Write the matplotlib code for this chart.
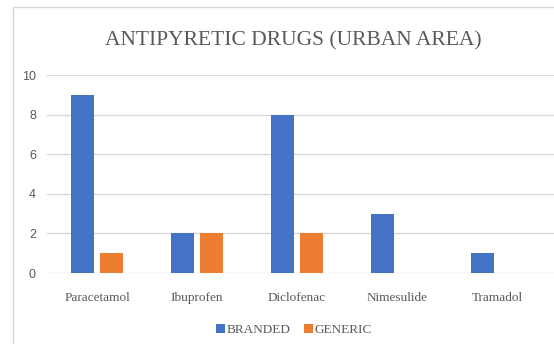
import matplotlib.pyplot as plt
from matplotlib.patches import Rectangle
import numpy as np

drugs = ['Paracetamol', 'Ibuprofen', 'Diclofenac', 'Nimesulide', 'Tramadol']
branded = [9, 2, 8, 3, 1]
generic = [1, 2, 2, 0, 0]
yticks = [0, 2, 4, 6, 8, 10]

blue = '#4472C4'
orange = '#ED7D31'
grey_text = '#595959'
grid_col = '#D9D9D9'

fig = plt.figure(figsize=(5.54, 3.44), dpi=100)
ax = fig.add_axes([47 / 554, 1 - 273 / 344, (554 - 47) / 554, (273 - 75) / 344])

# chart frame
fig.patches.append(Rectangle((13 / 554, -0.01), 1.0, 1 - 7 / 344 + 0.01,
                             transform=fig.transFigure, fill=False,
                             edgecolor=grid_col, linewidth=1))

x = np.arange(len(drugs))
w = 0.23
ax.bar(x - 0.145, branded, w, color=blue, label='BRANDED', zorder=3)
ax.bar(x + 0.145, generic, w, color=orange, label='GENERIC', zorder=3)

ax.set_xlim(-0.5, 4.57)
ax.set_ylim(0, 10)
ax.set_yticks(yticks)
ax.set_xticks(x)
ax.set_xticklabels(drugs, family='Liberation Serif', fontsize=9.5, color=grey_text)
for lab in ax.get_yticklabels():
    lab.set_family('Liberation Sans')
    lab.set_fontsize(9)
    lab.set_color(grey_text)
ax.tick_params(length=0)
ax.tick_params(axis='x', pad=14)
ax.tick_params(axis='y', pad=8)
ax.yaxis.grid(True, color=grid_col, linewidth=1, zorder=0)
for s in ax.spines.values():
    s.set_visible(False)

fig.text(293 / 554, 1 - 41 / 344, 'ANTIPYRETIC DRUGS (URBAN AREA)', ha='center', va='center',
         family='Liberation Serif', fontsize=15.5, color=grey_text)

fig.legend(loc='center', bbox_to_anchor=(294 / 554, 1 - 330 / 344), ncol=2, frameon=False,
           prop={'family': 'Liberation Serif', 'size': 9.5}, labelcolor=grey_text,
           handlelength=0.7, handleheight=0.7, handletextpad=0.1, columnspacing=1.0)

fig.savefig('out.png', dpi=100)
